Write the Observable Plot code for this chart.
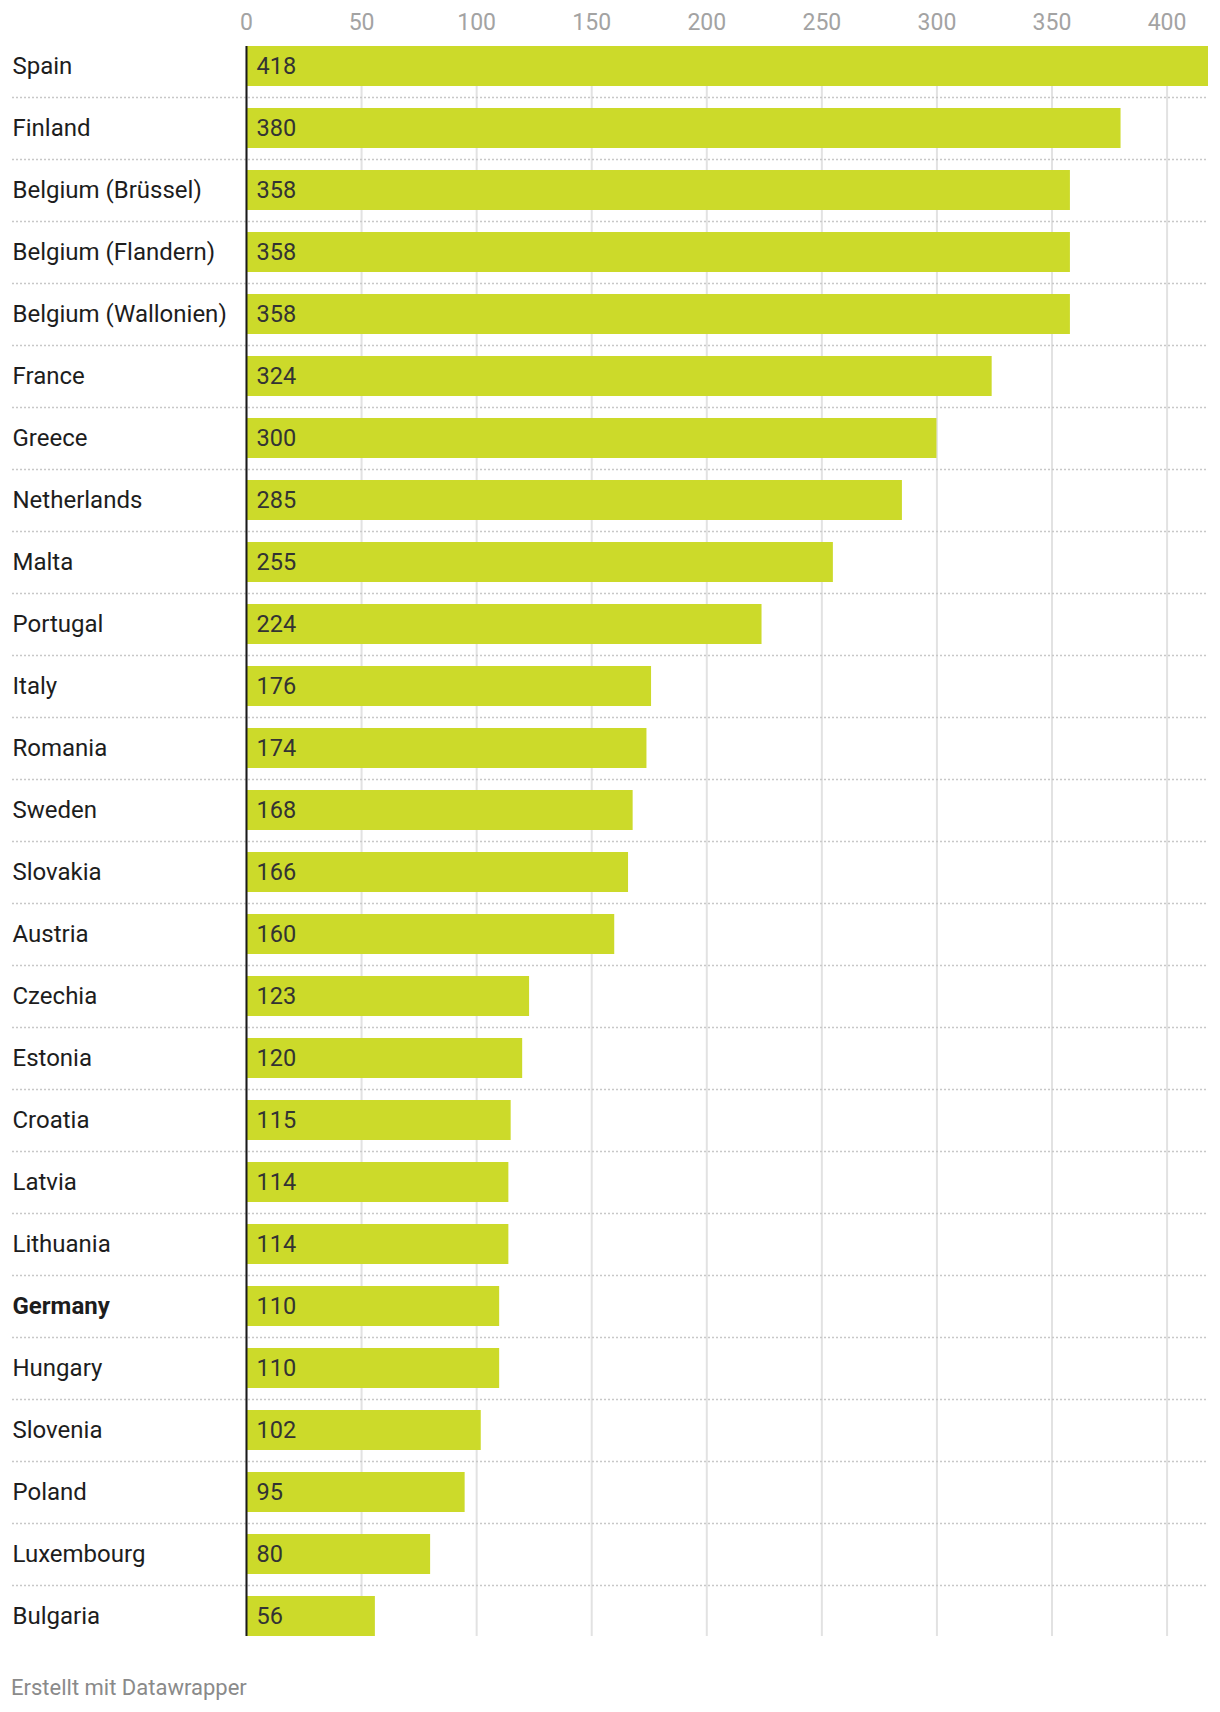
<!DOCTYPE html>
<html>
<head>
<meta charset="utf-8">
<script src="https://cdn.jsdelivr.net/npm/d3@7"></script>
<script src="https://cdn.jsdelivr.net/npm/@observablehq/plot@0.6"></script>
<style>
  html, body { margin: 0; padding: 0; background: #fff; }
  #chart svg { display: block; }
  #footer { font-family: Roboto, sans-serif; font-size: 22px; color: #8a8a8a; line-height: 28px; margin-top: 24px; padding-left: 11px; }
</style>
</head>
<body>
<div id="chart"></div>
<div id="footer">Erstellt mit Datawrapper</div>
<script>
const countries = ["Spain","Finland","Belgium (Brüssel)","Belgium (Flandern)","Belgium (Wallonien)","France","Greece","Netherlands","Malta","Portugal","Italy","Romania","Sweden","Slovakia","Austria","Czechia","Estonia","Croatia","Latvia","Lithuania","Germany","Hungary","Slovenia","Poland","Luxembourg","Bulgaria"];
const values = [418,380,358,358,358,324,300,285,255,224,176,174,168,166,160,123,120,115,114,114,110,110,102,95,80,56];
const xTicks = [0,50,100,150,200,250,300,350,400];
const highlight = ["Germany"];

const data = countries.map((c, i) => ({country: c, value: values[i]}));
const marginLeft = 246;
const labelX = 12;

const chart = Plot.plot({
  width: 1220,
  height: 1650,
  marginTop: 46,
  marginBottom: 14,
  marginLeft: marginLeft,
  marginRight: 12,
  style: {fontFamily: "Roboto, sans-serif", background: "#fff", overflow: "visible"},
  x: {domain: [0, 418], axis: null},
  y: {domain: countries, paddingInner: 22/62, paddingOuter: 0, axis: null},
  marks: [
    Plot.gridX(xTicks, {stroke: "#e2e2e2", strokeOpacity: 1, strokeWidth: 2}),
    Plot.ruleY(countries.slice(0, -1), {y: d => d, dy: 31, stroke: "#c8c8c8", strokeWidth: 1.5, strokeDasharray: "2,2", insetLeft: -(marginLeft - labelX)}),
    Plot.barX(data, {y: "country", x: "value", fill: "#ccda2a"}),
    Plot.ruleX([0], {stroke: "#1a1a1a", strokeWidth: 2}),
    Plot.axisX(xTicks, {anchor: "top", label: null, tickSize: 0, tickPadding: 17, fontSize: 23, color: "#a3a3a3"}),
    Plot.text(data, {y: "country", x: 0, text: d => String(d.value), textAnchor: "start", dx: 10, fontSize: 23.5, fill: "#333"}),
    Plot.text(data.filter(d => !highlight.includes(d.country)), {y: "country", text: "country", frameAnchor: "left", textAnchor: "start", dx: -(marginLeft - labelX), fontSize: 24, fill: "#1d1d1d"}),
    Plot.text(data.filter(d => highlight.includes(d.country)), {y: "country", text: "country", frameAnchor: "left", textAnchor: "start", dx: -(marginLeft - labelX), fontSize: 24, fontWeight: "bold", fill: "#1d1d1d"})
  ]
});
document.getElementById("chart").appendChild(chart);
</script>
</body>
</html>
